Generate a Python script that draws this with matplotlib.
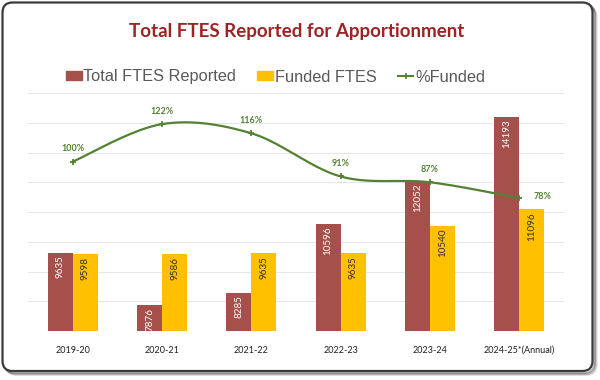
import numpy as np
import matplotlib
matplotlib.use("Agg")
import matplotlib.pyplot as plt
from matplotlib.patches import FancyBboxPatch, Rectangle
from matplotlib.lines import Line2D
from matplotlib.ticker import MultipleLocator

categories = ["2019-20", "2020-21", "2021-22", "2022-23", "2023-24", "2024-25*(Annual)"]
total_ftes = [9635, 7876, 8285, 10596, 12052, 14193]
funded_ftes = [9598, 9586, 9635, 9635, 10540, 11096]
pct_funded = [99.6, 121.7, 116.3, 90.9, 87.5, 78.2]
pct_labels = ["100%", "122%", "116%", "91%", "87%", "78%"]

RED = "#A5504B"
YEL = "#FFC000"
GRN = "#548235"
TITLE = "#9C2424"

fig = plt.figure(figsize=(6, 3.8), dpi=100)

# frame
bg = fig.add_axes([0, 0, 1, 1], zorder=-5)
bg.set_xlim(0, 600); bg.set_ylim(380, 0); bg.axis("off")
for off, a in [(4, 0.12), (3, 0.2), (2, 0.3)]:
    bg.add_patch(FancyBboxPatch((2.5 + off, 2.5 + off), 590, 368.5,
                                boxstyle="round,pad=0,rounding_size=10",
                                fc="none", ec=(0, 0, 0, a), lw=1.5))
bg.add_patch(FancyBboxPatch((2.5, 2.5), 590, 368.5, boxstyle="round,pad=0,rounding_size=10",
                            fc="white", ec="#3A3A3A", lw=1.6))

ax = fig.add_axes([28/600, 1 - 331/380, 536/600, 238/380])
ax.set_facecolor("none")
x = np.arange(len(categories))
w = 0.28
ax.bar(x - w/2, total_ftes, w, color=RED, zorder=3)
ax.bar(x + w/2, funded_ftes, w, color=YEL, zorder=3)
ax.set_ylim(7000, 15000)
ax.set_xlim(-0.5, len(categories) - 0.5)
ax.yaxis.set_major_locator(MultipleLocator(1000))
ax.grid(axis="y", color="#E6E6E6", lw=0.7, zorder=0)
for s in ax.spines.values():
    s.set_visible(False)
ax.set_xticks(x)
ax.set_xticklabels(categories, fontsize=6.5, family="Lato", color="#202020")

for xi, v in zip(x, total_ftes):
    ax.text(xi - w/2, v - 90, str(v), rotation=90, ha="center", va="top",
            fontsize=7.1, family="Lato", color="white", zorder=5)
for xi, v in zip(x, funded_ftes):
    ax.text(xi + w/2, v - 110, str(v), rotation=90, ha="center", va="top",
            fontsize=7.1, family="Lato", color="#303030", zorder=5)

ax2 = ax.twinx()
ax2.set_ylim(0, 140)
ax2.axis("off")
ax.tick_params(axis="y", which="both", left=False, right=False, labelleft=False, labelright=False)
ax.tick_params(axis="x", bottom=False, pad=7)

# Catmull-Rom smoothing (Excel-style smoothed line)
px = np.array(x, dtype=float)
py = np.array(pct_funded, dtype=float)
P = np.column_stack([px, py])
Pext = np.vstack([P[0], P, P[-1]])
curve = []
t = np.linspace(0, 1, 40)
for i in range(len(P) - 1):
    p0, p1, p2, p3 = Pext[i], Pext[i+1], Pext[i+2], Pext[i+3]
    c1 = p1 + (p2 - p0) / 6
    c2 = p2 - (p3 - p1) / 6
    seg = ((1-t)**3)[:, None]*p1 + (3*(1-t)**2*t)[:, None]*c1 + (3*(1-t)*t**2)[:, None]*c2 + (t**3)[:, None]*p2
    curve.append(seg)
curve = np.vstack(curve)
ax2.plot(curve[:, 0], curve[:, 1], color=GRN, lw=1.6, zorder=6, solid_capstyle="round")
ax2.plot(px, py, ls="none", marker="+", ms=4, mew=1.3, color=GRN, zorder=7)

for i, (xi, v, lab) in enumerate(zip(px, py, pct_labels)):
    if i == len(px) - 1:
        ax2.annotate(lab, (xi, v), xytext=(10, 1), textcoords="offset points",
                     ha="left", va="center", fontsize=6.5, family="Lato",
                     fontweight="bold", color=GRN)
    else:
        ax2.annotate(lab, (xi, v), xytext=(0, 6), textcoords="offset points",
                     ha="center", va="bottom", fontsize=6.5, family="Lato",
                     fontweight="bold", color=GRN)

fig.text(297/600, 1 - 37.5/380, "Total FTES Reported for Apportionment", ha="center",
         va="baseline", fontsize=13.5, family="Lato", fontweight="bold", color=TITLE)

handles = [Rectangle((0, 0), 1, 1, color=RED), Rectangle((0, 0), 1, 1, color=YEL),
           Line2D([], [], color=GRN, lw=1.5, marker="+", ms=4, mew=1.2)]
leg = fig.legend(handles, ["Total FTES Reported", "Funded FTES", "%Funded"], ncol=3,
                 loc="center", bbox_to_anchor=(275.5/600, 1 - 77/380), frameon=False,
                 prop={"family": "Liberation Sans", "size": 11.8}, labelcolor="#595959",
                 handlelength=0.95, handleheight=0.5, handletextpad=0.1, columnspacing=1.3,
                 borderpad=0, borderaxespad=0)

fig.savefig("out.png", dpi=100)
